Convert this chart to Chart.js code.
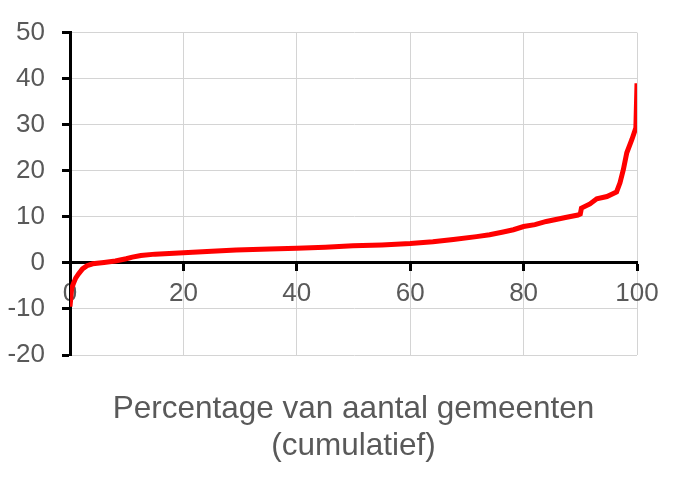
<!DOCTYPE html>
<html lang="nl">

<head>
    <meta charset="UTF-8">
    <title>Cumulatief percentage gemeenten</title>
    <script src="https://cdn.jsdelivr.net/npm/chart.js"></script>
    <style>
        body {
            margin: 0;
            background-color: #ffffff;
        }

        canvas {
            display: block;
        }
    </style>
</head>

<body>
    <canvas id="lineChart" width="688" height="486"></canvas>

    <script type="text/javascript">
        // percentage of municipalities (cumulative)
        const pct = [0, 0.3, 0.6, 1.0, 1.5, 2.2, 3.0, 4.0, 6.0, 8.0, 9.9, 11.0, 12.5, 15, 20, 25, 29.3,
            35.2, 40, 45, 49.9, 55, 60, 64, 67.6, 71.7, 74, 76.4, 78.2, 80, 82, 84, 87.6, 89.6,
            90.0, 90.2, 91.7, 92.9, 94.7, 96.4, 97.0, 97.6, 98.2, 99.1, 99.8, 100];
        const values = [-9.5, -5.5, -4.5, -3.3, -2.4, -1.3, -0.6, -0.2, 0.1, 0.4, 0.9, 1.25, 1.6, 1.9, 2.2, 2.5, 2.8,
            3.0, 3.2, 3.4, 3.7, 3.9, 4.2, 4.6, 5.1, 5.7, 6.1, 6.7, 7.2, 7.9, 8.3, 9.0, 9.9, 10.4,
            10.6, 11.9, 12.8, 13.9, 14.4, 15.4, 17.4, 20.3, 23.9, 26.8, 29.3, 39];
        const xTicks = [0, 20, 40, 60, 80, 100];
        const yTicks = [-20, -10, 0, 10, 20, 30, 40, 50];
        const xTitle = ['Percentage van aantal gemeenten', '(cumulatief)'];

        const fontFamily = '"Liberation Sans", Arial, sans-serif';
        const textColor = '#595959';
        const gridColor = '#d4d4d4';

        var points = pct.map((x, i) => ({ x: x, y: values[i] }));

        var ctx = document.getElementById('lineChart').getContext('2d');
        var myLineChart = new Chart(ctx, {
            type: 'line',
            data: {
                datasets: [{
                    data: points,
                    borderColor: '#ff0000',
                    borderWidth: 5,
                    pointRadius: 0,
                    tension: 0,
                    fill: false
                }]
            },
            options: {
                responsive: false,
                animation: false,
                layout: {
                    padding: { left: 0, right: 51, top: 28, bottom: 0 }
                },
                plugins: {
                    legend: { display: false },
                    tooltip: { enabled: false },
                    title: {
                        display: true,
                        position: 'bottom',
                        fullSize: false,
                        text: xTitle,
                        color: textColor,
                        font: { family: fontFamily, size: 31.5, weight: 'normal', lineHeight: '37px' },
                        padding: { top: 36, bottom: 21 }
                    }
                },
                scales: {
                    x: {
                        type: 'linear',
                        position: { y: 0 },
                        min: 0,
                        max: 100,
                        afterBuildTicks: s => { s.ticks = xTicks.map(v => ({ value: v })); },
                        afterFit: s => { s.height = 0; },
                        grid: {
                            color: gridColor,
                            lineWidth: 1,
                            tickColor: '#000000',
                            tickWidth: 3,
                            tickLength: 7
                        },
                        border: { color: '#000000', width: 3 },
                        ticks: {
                            color: textColor,
                            padding: 8,
                            maxRotation: 0,
                            font: { family: fontFamily, size: 26 }
                        }
                    },
                    y: {
                        type: 'linear',
                        min: -20,
                        max: 50,
                        afterBuildTicks: s => { s.ticks = yTicks.map(v => ({ value: v })); },
                        afterFit: s => { s.width = 70; },
                        grid: {
                            color: gridColor,
                            lineWidth: 1,
                            tickColor: '#000000',
                            tickWidth: 3,
                            tickLength: 8
                        },
                        border: { color: '#000000', width: 3 },
                        ticks: {
                            color: textColor,
                            padding: 17,
                            font: { family: fontFamily, size: 26 }
                        }
                    }
                }
            }
        });
    </script>
</body>

</html>
